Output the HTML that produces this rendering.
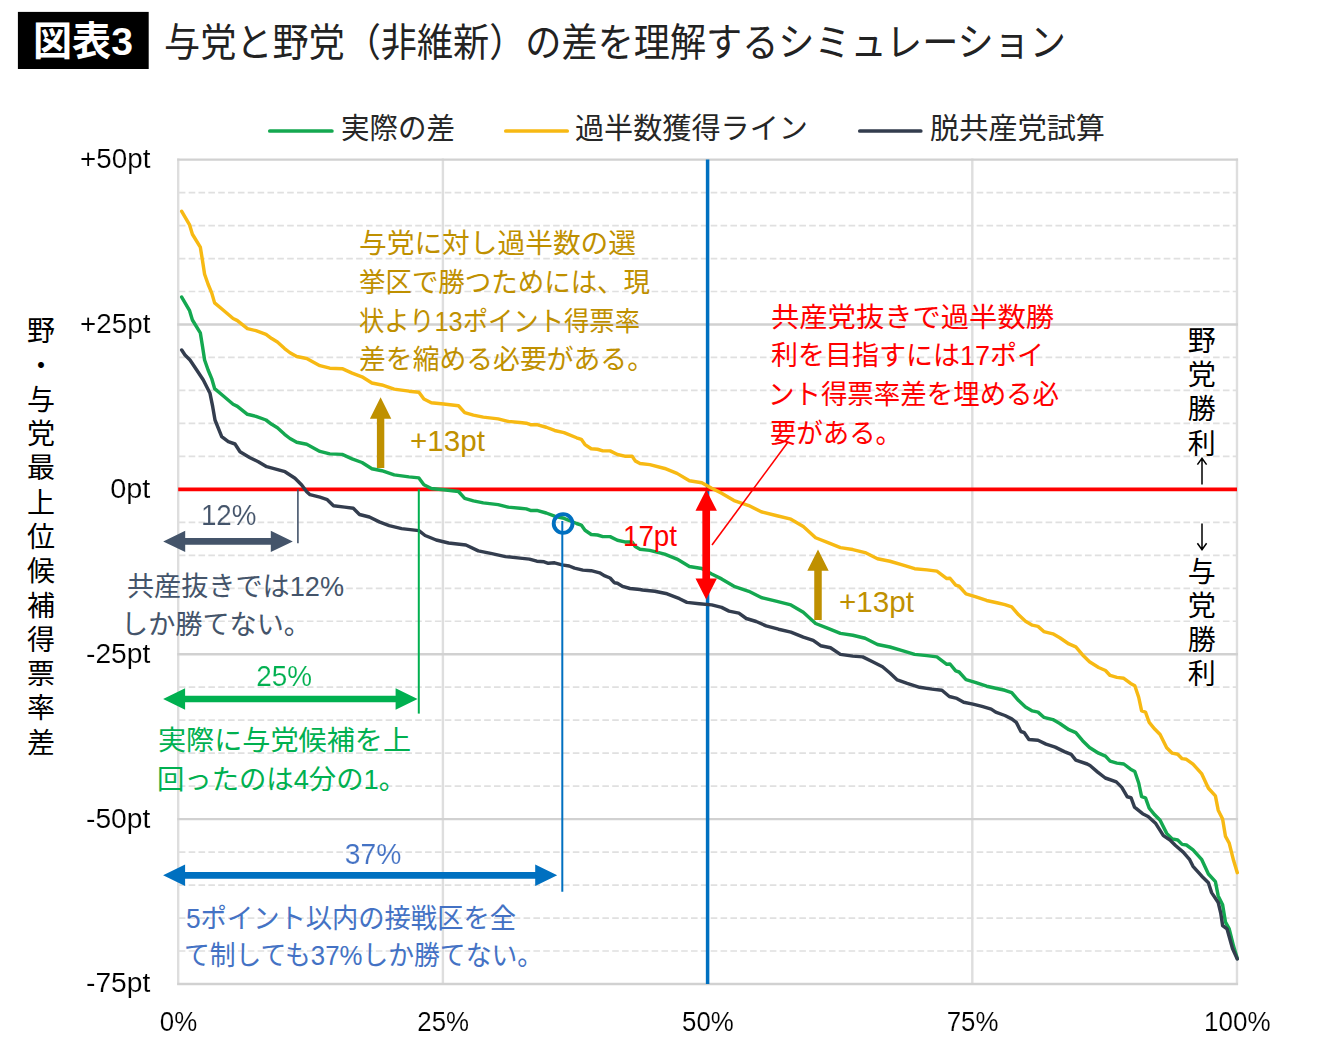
<!DOCTYPE html>
<html lang="ja"><head><meta charset="utf-8"><title>図表3 与党と野党（非維新）の差を理解するシミュレーション</title>
<style>html,body{margin:0;padding:0;background:#fff}body{width:1340px;height:1050px;overflow:hidden;font-family:"Liberation Sans","Noto Sans CJK JP",sans-serif}svg{display:block}text{font-family:"Liberation Sans","Noto Sans CJK JP",sans-serif;font-size:27px;fill:#000}.lab text{stroke:#fff;stroke-width:.14px}</style>
</head><body>
<svg width="1340" height="1050" viewBox="0 0 1340 1050" role="img">
<rect width="1340" height="1050" fill="#fff"/>
<rect x="17.9" y="11.9" width="130.8" height="57.1" fill="#000"/>
<line x1="178.8" y1="192.58" x2="1237" y2="192.58" stroke="#e0e0e0" stroke-width="1.7" stroke-dasharray="6.6 3.25"/>
<line x1="178.8" y1="225.55" x2="1237" y2="225.55" stroke="#e0e0e0" stroke-width="1.7" stroke-dasharray="6.6 3.25"/>
<line x1="178.8" y1="258.53" x2="1237" y2="258.53" stroke="#e0e0e0" stroke-width="1.7" stroke-dasharray="6.6 3.25"/>
<line x1="178.8" y1="291.5" x2="1237" y2="291.5" stroke="#e0e0e0" stroke-width="1.7" stroke-dasharray="6.6 3.25"/>
<line x1="178.8" y1="357.46" x2="1237" y2="357.46" stroke="#e0e0e0" stroke-width="1.7" stroke-dasharray="6.6 3.25"/>
<line x1="178.8" y1="390.43" x2="1237" y2="390.43" stroke="#e0e0e0" stroke-width="1.7" stroke-dasharray="6.6 3.25"/>
<line x1="178.8" y1="423.41" x2="1237" y2="423.41" stroke="#e0e0e0" stroke-width="1.7" stroke-dasharray="6.6 3.25"/>
<line x1="178.8" y1="456.38" x2="1237" y2="456.38" stroke="#e0e0e0" stroke-width="1.7" stroke-dasharray="6.6 3.25"/>
<line x1="178.8" y1="522.34" x2="1237" y2="522.34" stroke="#e0e0e0" stroke-width="1.7" stroke-dasharray="6.6 3.25"/>
<line x1="178.8" y1="555.31" x2="1237" y2="555.31" stroke="#e0e0e0" stroke-width="1.7" stroke-dasharray="6.6 3.25"/>
<line x1="178.8" y1="588.29" x2="1237" y2="588.29" stroke="#e0e0e0" stroke-width="1.7" stroke-dasharray="6.6 3.25"/>
<line x1="178.8" y1="621.26" x2="1237" y2="621.26" stroke="#e0e0e0" stroke-width="1.7" stroke-dasharray="6.6 3.25"/>
<line x1="178.8" y1="687.22" x2="1237" y2="687.22" stroke="#e0e0e0" stroke-width="1.7" stroke-dasharray="6.6 3.25"/>
<line x1="178.8" y1="720.19" x2="1237" y2="720.19" stroke="#e0e0e0" stroke-width="1.7" stroke-dasharray="6.6 3.25"/>
<line x1="178.8" y1="753.17" x2="1237" y2="753.17" stroke="#e0e0e0" stroke-width="1.7" stroke-dasharray="6.6 3.25"/>
<line x1="178.8" y1="786.14" x2="1237" y2="786.14" stroke="#e0e0e0" stroke-width="1.7" stroke-dasharray="6.6 3.25"/>
<line x1="178.8" y1="852.1" x2="1237" y2="852.1" stroke="#e0e0e0" stroke-width="1.7" stroke-dasharray="6.6 3.25"/>
<line x1="178.8" y1="885.07" x2="1237" y2="885.07" stroke="#e0e0e0" stroke-width="1.7" stroke-dasharray="6.6 3.25"/>
<line x1="178.8" y1="918.05" x2="1237" y2="918.05" stroke="#e0e0e0" stroke-width="1.7" stroke-dasharray="6.6 3.25"/>
<line x1="178.8" y1="951.02" x2="1237" y2="951.02" stroke="#e0e0e0" stroke-width="1.7" stroke-dasharray="6.6 3.25"/>
<line x1="178.2" y1="158.6" x2="178.2" y2="985" stroke="#dedede" stroke-width="2.4"/>
<line x1="442.9" y1="158.6" x2="442.9" y2="985" stroke="#dedede" stroke-width="2.4"/>
<line x1="972.3" y1="158.6" x2="972.3" y2="985" stroke="#dedede" stroke-width="2.4"/>
<line x1="1237" y1="158.6" x2="1237" y2="985" stroke="#dedede" stroke-width="2.4"/>
<line x1="177.2" y1="159.6" x2="1238" y2="159.6" stroke="#d1d1d1" stroke-width="2.4"/>
<line x1="177.2" y1="324.48" x2="1238" y2="324.48" stroke="#d1d1d1" stroke-width="2.4"/>
<line x1="177.2" y1="654.24" x2="1238" y2="654.24" stroke="#d1d1d1" stroke-width="2.4"/>
<line x1="177.2" y1="819.12" x2="1238" y2="819.12" stroke="#d1d1d1" stroke-width="2.4"/>
<line x1="177.2" y1="984" x2="1238" y2="984" stroke="#d1d1d1" stroke-width="2.4"/>
<line x1="707.6" y1="159.6" x2="707.6" y2="984" stroke="#0070C0" stroke-width="3.5"/>
<line x1="178.2" y1="489.36" x2="1237" y2="489.36" stroke="#FF0000" stroke-width="3.6"/>
<path d="M181.7 297.1 L189.6 310.7 L192.4 320 L200.3 332.8 L202.4 345.7 L204.6 360 L208.1 370 L211.7 378.6 L214.6 388.6 L223.1 395.7 L233.1 404.3 L237.4 406.4 L247.4 414.3 L256 416.4 L266 420 L271.7 424.3 L277.4 427.8 L284.6 434.3 L290 438.5 L296.7 442.3 L306.7 444.3 L319.9 451.4 L329.8 453.9 L342.2 454.4 L352.1 458.8 L362 462.5 L371.9 468.7 L381.8 470.7 L394.2 474.9 L409 476.9 L418.9 477.9 L423.9 484.8 L431.3 488.5 L443.7 489.8 L458.5 491.5 L464.7 498.4 L473.4 500.9 L483.3 502.9 L498.1 504.6 L508 507.1 L520 508.3 L526.3 508.9 L530.5 510.4 L536.8 510.4 L546.2 513 L554.6 516.2 L564 518.3 L576.6 523.5 L581.3 525.1 L585 530.3 L591.2 534.5 L597.5 535 L602.8 536.6 L610.1 536.6 L617.4 540.3 L624.8 541.9 L632.1 541.9 L635.2 546.6 L640 549.2 L649.8 550.4 L664.7 554.2 L677 559.1 L689.4 566.5 L701.8 568.5 L711.7 574 L721.6 578.9 L734 586.3 L748.8 591.3 L761.2 597.5 L776 601.2 L790.9 604.9 L803.3 612.3 L815.6 623.5 L828 628.4 L840.4 633.4 L852.8 635.3 L865.1 638.3 L877.5 644.5 L889.9 647 L902.3 650.7 L914.6 654.4 L927 655.6 L936.9 656.9 L946.8 664.3 L950 664 L955.7 670.9 L959.1 672 L966 679.6 L975.2 682.3 L986.6 686.2 L998 688.7 L1004.9 690.3 L1011.7 692.6 L1018.6 700.6 L1025.5 707 L1032.3 710.9 L1038 712.1 L1043.8 717.3 L1052.9 719.6 L1059.8 723.5 L1068.9 729.7 L1075.8 732.6 L1082.6 740.7 L1089.5 747.5 L1098.6 753.2 L1105.5 756.2 L1110.1 761.2 L1116.9 763.1 L1123.8 764 L1130.6 769.2 L1134.8 771.5 L1138.7 783 L1141.6 796.7 L1145.5 797.8 L1149.2 808.2 L1154.7 814.8 L1160.1 820.3 L1166.7 833.4 L1172.2 838.9 L1177.7 840 L1182.1 844.4 L1186.4 845 L1193 849.9 L1201.8 859.7 L1208.4 874 L1215.4 881.6 L1218.2 895.9 L1222.6 904.7 L1225.5 922.2 L1229.2 928.8 L1233.6 946.3 L1237.3 958.4" fill="none" stroke="#14A850" stroke-width="3.45" stroke-linejoin="round" stroke-linecap="round"/>
<path d="M181.7 211.36 L189.6 224.96 L192.4 234.26 L200.3 247.06 L202.4 259.96 L204.6 274.26 L208.1 284.26 L211.7 292.86 L214.6 302.86 L223.1 309.96 L233.1 318.56 L237.4 320.66 L247.4 328.56 L256 330.66 L266 334.26 L271.7 338.56 L277.4 342.06 L284.6 348.56 L290 352.76 L296.7 356.56 L306.7 358.56 L319.9 365.66 L329.8 368.16 L342.2 368.66 L352.1 373.06 L362 376.76 L371.9 382.96 L381.8 384.96 L394.2 389.16 L409 391.16 L418.9 392.16 L423.9 399.06 L431.3 402.76 L443.7 404.06 L458.5 405.76 L464.7 412.66 L473.4 415.16 L483.3 417.16 L498.1 418.86 L508 421.36 L520 422.56 L526.3 423.16 L530.5 424.66 L536.8 424.66 L546.2 427.26 L554.6 430.46 L564 432.56 L576.6 437.76 L581.3 439.36 L585 444.56 L591.2 448.76 L597.5 449.26 L602.8 450.86 L610.1 450.86 L617.4 454.56 L624.8 456.16 L632.1 456.16 L635.2 460.86 L640 463.46 L649.8 464.66 L664.7 468.46 L677 473.36 L689.4 480.76 L701.8 482.76 L711.7 488.26 L721.6 493.16 L734 500.56 L748.8 505.56 L761.2 511.76 L776 515.46 L790.9 519.16 L803.3 526.56 L815.6 537.76 L828 542.66 L840.4 547.66 L852.8 549.56 L865.1 552.56 L877.5 558.76 L889.9 561.26 L902.3 564.96 L914.6 568.66 L927 569.86 L936.9 571.16 L946.8 578.56 L950 578.26 L955.7 585.16 L959.1 586.26 L966 593.86 L975.2 596.56 L986.6 600.46 L998 602.96 L1004.9 604.56 L1011.7 606.86 L1018.6 614.86 L1025.5 621.26 L1032.3 625.16 L1038 626.36 L1043.8 631.56 L1052.9 633.86 L1059.8 637.76 L1068.9 643.96 L1075.8 646.86 L1082.6 654.96 L1089.5 661.76 L1098.6 667.46 L1105.5 670.46 L1110.1 675.46 L1116.9 677.36 L1123.8 678.26 L1130.6 683.46 L1134.8 685.76 L1138.7 697.26 L1141.6 710.96 L1145.5 712.06 L1149.2 722.46 L1154.7 729.06 L1160.1 734.56 L1166.7 747.66 L1172.2 753.16 L1177.7 754.26 L1182.1 758.66 L1186.4 759.26 L1193 764.16 L1201.8 773.96 L1208.4 788.26 L1215.4 795.86 L1218.2 810.16 L1222.6 818.96 L1225.5 836.46 L1229.2 843.06 L1233.6 860.56 L1237.3 872.66" fill="none" stroke="#F7B913" stroke-width="3.45" stroke-linejoin="round" stroke-linecap="round"/>
<path d="M181.7 350 L185 355 L190 360 L196.7 370 L203.3 380 L210 393.3 L212.7 406.7 L215 420 L221.7 436.7 L228.3 441.7 L235 444 L240 451.7 L250 457.7 L258.3 461.7 L266.7 466.7 L276.7 469.3 L285 471.7 L295 478.3 L301.7 485 L306.7 491.7 L310 494.7 L319.9 497.2 L327.3 499.7 L333.5 505.8 L344.7 507.1 L353.3 508.3 L359.5 514.5 L369.4 517 L379.3 521.9 L389.2 525.6 L401.6 528.6 L418.9 530.6 L425.1 535.5 L436.2 540 L448.6 543 L465.9 545 L478.3 550.9 L490.7 553.4 L505.5 556.6 L520 558.1 L529.4 559.1 L536.8 561.2 L544.1 561.8 L548.3 563.3 L554.6 562.8 L561.9 564.9 L569.2 566 L574.5 568.1 L582.9 570.1 L591.2 570.7 L599.6 572.8 L604.9 575.9 L610.1 578 L614.3 582.7 L617.4 583.2 L622.7 586.4 L630 588.5 L640 589.5 L642.4 590 L654.8 591.3 L667.1 593.8 L679.5 598.7 L686.9 602.4 L699.3 603.7 L711.7 604.9 L721.6 607.4 L729 611.1 L738.9 613.1 L746.3 618.5 L756.2 621.5 L766.1 625.9 L778.5 629.2 L790.9 632.1 L803.3 637.1 L813.2 640.3 L820.6 645.7 L830.5 647.7 L840.4 654.4 L852.8 656.1 L862.7 656.9 L872.6 661.8 L882.5 666.8 L889.9 673 L897.3 679.9 L907.2 683.4 L919.6 687.3 L932 689.1 L941.9 690.3 L949.3 696.5 L956.9 698.4 L963.7 702.2 L972.9 704.1 L982 706.4 L991.2 709.1 L995.7 712.1 L1004.9 715.5 L1011.7 718.9 L1016.3 722.4 L1020.9 731.5 L1024.3 732.7 L1028.9 739.5 L1038 740.2 L1046 744.1 L1055.2 747.1 L1064.3 751.6 L1071.2 754.4 L1075.8 760.1 L1087.2 764 L1090 765.5 L1097.7 772.1 L1105.3 778 L1116.3 781.9 L1121.8 787.4 L1127.3 796.8 L1131 797.7 L1134.5 807.1 L1142.6 813.7 L1148.1 816.5 L1155.8 823.6 L1163.4 835.6 L1170 840 L1175.5 845.5 L1183.2 852.1 L1189.7 859.7 L1193 866.3 L1201.8 876.2 L1208.4 882.7 L1211.6 892.6 L1218.2 902.5 L1220.8 913.4 L1222.6 925.5 L1227 928.8 L1232.5 948.5 L1237.3 959" fill="none" stroke="#333D4E" stroke-width="3.45" stroke-linejoin="round" stroke-linecap="round"/>
<line x1="269.8" y1="131" x2="331.9" y2="131" stroke="#14A850" stroke-width="3.7" stroke-linecap="round"/>
<line x1="505.8" y1="131" x2="567.2" y2="131" stroke="#F7B913" stroke-width="3.7" stroke-linecap="round"/>
<line x1="859.8" y1="131" x2="920.8" y2="131" stroke="#333D4E" stroke-width="3.7" stroke-linecap="round"/>
<line x1="297.9" y1="489.36" x2="297.9" y2="543.2" stroke="#44546A" stroke-width="1.6"/>
<line x1="418.8" y1="489.36" x2="418.8" y2="713.6" stroke="#00B050" stroke-width="2"/>
<line x1="562.3" y1="521" x2="562.3" y2="891.7" stroke="#0070C0" stroke-width="2"/>
<circle cx="563.1" cy="523.5" r="9.4" fill="none" stroke="#0070C0" stroke-width="3.9"/>
<line x1="788" y1="442" x2="712" y2="545" stroke="#FF0000" stroke-width="1.6"/>
<polygon points="163.2,541.4 185.2,530.7 185.2,538.05 270.8,538.05 270.8,530.7 292.8,541.4 270.8,552.1 270.8,544.75 185.2,544.75 185.2,552.1" fill="#44546A"/>
<polygon points="163.1,699 185.1,688.3 185.1,695.65 395.6,695.65 395.6,688.3 417.6,699 395.6,709.7 395.6,702.35 185.1,702.35 185.1,709.7" fill="#00B050"/>
<polygon points="163.1,875.3 185.1,864.6 185.1,871.95 535.2,871.95 535.2,864.6 557.2,875.3 535.2,886 535.2,878.65 185.1,878.65 185.1,886" fill="#0070C0"/>
<polygon points="706.2,489.7 716.9,510.7 710.05,510.7 710.05,578.6 716.9,578.6 706.2,599.6 695.5,578.6 702.35,578.6 702.35,510.7 695.5,510.7" fill="#FF0000"/>
<polygon points="380.6,397.3 391.3,418.7 384.3,418.7 384.3,468 376.9,468 376.9,418.7 369.9,418.7" fill="#BF9000"/>
<polygon points="818,549.4 828.7,570.8 821.75,570.8 821.75,619.9 814.25,619.9 814.25,570.8 807.3,570.8" fill="#BF9000"/>
<path d="M1202 484.6V458.4M1197.4 464.6L1202 458.2L1206.6 464.6" fill="none" stroke="#000" stroke-width="1.5"/>
<path d="M1202 523.6V549.4M1197.4 543.2L1202 549.6L1206.6 543.2" fill="none" stroke="#000" stroke-width="1.5"/>
<text x="164" y="55.6" textLength="902" lengthAdjust="spacingAndGlyphs" style="font-size:39px;fill:#222222">与党と野党（非維新）の差を理解するシミュレーション</text>
<text x="33" y="54.5" textLength="100" lengthAdjust="spacingAndGlyphs" style="font-size:39.5px;font-weight:bold;fill:#ffffff">図表3</text>
<text x="341" y="139" textLength="114" lengthAdjust="spacingAndGlyphs" style="font-size:29px;fill:#262626">実際の差</text>
<text x="575" y="139" textLength="233" lengthAdjust="spacingAndGlyphs" style="font-size:29px;fill:#262626">過半数獲得ライン</text>
<text x="930" y="139" textLength="175" lengthAdjust="spacingAndGlyphs" style="font-size:29px;fill:#262626">脱共産党試算</text>
<text x="359" y="253.4" textLength="277" lengthAdjust="spacingAndGlyphs" style="font-size:27.8px;fill:#BF9000">与党に対し過半数の選</text>
<text x="359" y="291.5" textLength="291" lengthAdjust="spacingAndGlyphs" style="font-size:27.8px;fill:#BF9000">挙区で勝つためには、現</text>
<text x="359" y="330.5" textLength="281" lengthAdjust="spacingAndGlyphs" style="font-size:27.8px;fill:#BF9000">状より13ポイント得票率</text>
<text x="359" y="368.8" textLength="295" lengthAdjust="spacingAndGlyphs" style="font-size:27.8px;fill:#BF9000">差を縮める必要がある。</text>
<text x="771" y="326.5" textLength="283" lengthAdjust="spacingAndGlyphs" style="font-size:27.8px;fill:#FF0000">共産党抜きで過半数勝</text>
<text x="771" y="365.2" textLength="273" lengthAdjust="spacingAndGlyphs" style="font-size:27.8px;fill:#FF0000">利を目指すには17ポイ</text>
<text x="768" y="403.8" textLength="291" lengthAdjust="spacingAndGlyphs" style="font-size:27.8px;fill:#FF0000">ント得票率差を埋める必</text>
<text x="770" y="442.6" textLength="132" lengthAdjust="spacingAndGlyphs" style="font-size:27.8px;fill:#FF0000">要がある。</text>
<text x="127" y="596.1" textLength="217" lengthAdjust="spacingAndGlyphs" style="font-size:27.8px;fill:#44546A">共産抜きでは12%</text>
<text x="121" y="633.9" textLength="190" lengthAdjust="spacingAndGlyphs" style="font-size:27.8px;fill:#44546A">しか勝てない。</text>
<text x="158" y="749.7" textLength="253" lengthAdjust="spacingAndGlyphs" style="font-size:27.8px;fill:#00B050">実際に与党候補を上</text>
<text x="157" y="788.8" textLength="249" lengthAdjust="spacingAndGlyphs" style="font-size:27.8px;fill:#00B050">回ったのは4分の1。</text>
<text x="186" y="927.7" textLength="330" lengthAdjust="spacingAndGlyphs" style="font-size:27.8px;fill:#4472C4">5ポイント以内の接戦区を全</text>
<text x="184" y="965.4" textLength="359" lengthAdjust="spacingAndGlyphs" style="font-size:27.8px;fill:#4472C4">て制しても37%しか勝てない。</text>
<text x="410" y="450.6" textLength="75" lengthAdjust="spacingAndGlyphs" style="font-size:29px;fill:#BF9000">+13pt</text>
<text x="839" y="611.6" textLength="75" lengthAdjust="spacingAndGlyphs" style="font-size:29px;fill:#BF9000">+13pt</text>
<text x="623" y="546.2" textLength="54" lengthAdjust="spacingAndGlyphs" style="font-size:29px;fill:#FF0000">17pt</text>
<text style="font-size:28px;fill:#000000"><tspan x="27" y="341.15">野</tspan><tspan x="27" y="375.5">・</tspan><tspan x="27" y="409.75">与</tspan><tspan x="27" y="444.05">党</tspan><tspan x="27" y="478.35">最</tspan><tspan x="27" y="512.65">上</tspan><tspan x="27" y="546.95">位</tspan><tspan x="27" y="581.25">候</tspan><tspan x="27" y="615.55">補</tspan><tspan x="27" y="649.85">得</tspan><tspan x="27" y="684.15">票</tspan><tspan x="27" y="718.45">率</tspan><tspan x="27" y="752.75">差</tspan></text>
<text style="font-size:28px;fill:#000000"><tspan x="1187.7" y="350.85">野</tspan><tspan x="1187.7" y="385.15">党</tspan><tspan x="1187.7" y="419.35">勝</tspan><tspan x="1187.7" y="453.75">利</tspan><tspan x="1187.7" y="581.55">与</tspan><tspan x="1187.7" y="615.55">党</tspan><tspan x="1187.7" y="649.75">勝</tspan><tspan x="1187.7" y="684.05">利</tspan></text>
<g class="lab" style="will-change:opacity"><text x="150.4" y="168" text-anchor="end" textLength="70.3" lengthAdjust="spacingAndGlyphs">+50pt</text>
<text x="150.4" y="332.88" text-anchor="end" textLength="70.3" lengthAdjust="spacingAndGlyphs">+25pt</text>
<text x="150.4" y="497.76" text-anchor="end" textLength="40.2" lengthAdjust="spacingAndGlyphs">0pt</text>
<text x="150.4" y="662.64" text-anchor="end" textLength="64.4" lengthAdjust="spacingAndGlyphs">-25pt</text>
<text x="150.4" y="827.52" text-anchor="end" textLength="64.4" lengthAdjust="spacingAndGlyphs">-50pt</text>
<text x="150.4" y="992.4" text-anchor="end" textLength="64.4" lengthAdjust="spacingAndGlyphs">-75pt</text>
<text x="178.5" y="1030.9" text-anchor="middle" textLength="37.4" lengthAdjust="spacingAndGlyphs">0%</text>
<text x="443.2" y="1030.9" text-anchor="middle" textLength="51.8" lengthAdjust="spacingAndGlyphs">25%</text>
<text x="707.9" y="1030.9" text-anchor="middle" textLength="51.8" lengthAdjust="spacingAndGlyphs">50%</text>
<text x="972.6" y="1030.9" text-anchor="middle" textLength="51.8" lengthAdjust="spacingAndGlyphs">75%</text>
<text x="1237.3" y="1030.9" text-anchor="middle" textLength="66.6" lengthAdjust="spacingAndGlyphs">100%</text>
<text x="228.7" y="525" text-anchor="middle" textLength="55.6" lengthAdjust="spacingAndGlyphs" style="fill:#44546A;font-size:29px">12%</text>
<text x="284.2" y="685.9" text-anchor="middle" textLength="55.8" lengthAdjust="spacingAndGlyphs" style="fill:#00B050;font-size:29px">25%</text>
<text x="373" y="864.4" text-anchor="middle" textLength="56.6" lengthAdjust="spacingAndGlyphs" style="fill:#4472C4;font-size:29px">37%</text></g>
</svg>
</body></html>
